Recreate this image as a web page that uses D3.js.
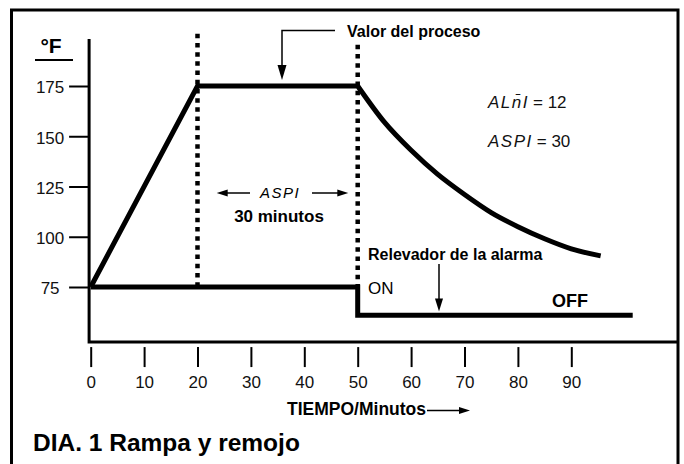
<!DOCTYPE html>
<html lang="es">
<head>
<meta charset="utf-8">
<title>DIA. 1 Rampa y remojo</title>
<script src="https://cdn.jsdelivr.net/npm/d3@7/dist/d3.min.js"></script>
<style>
  body { margin: 0; background: #fff; }
  svg { display: block; font-family: "Liberation Sans", Arial, sans-serif; }
  .tick line { stroke: #000; stroke-width: 2; }
  .tick text { font-size: 17px; fill: #111; }
  .seg { font-style: italic; letter-spacing: 1.5px; }
</style>
</head>
<body>
<script>
// values
var xTicks = [0, 10, 20, 30, 40, 50, 60, 70, 80, 90];
var yTicks = [75, 100, 125, 150, 175];

// process value: ramp + soak, then cooling curve
var processRamp = [[0, 75], [20, 175], [50, 175]];
var processDecay = [[50, 175], [55, 157], [60, 143], [65, 131], [70, 121],
                    [75, 112], [80, 105], [85, 99], [90, 94], [95.5, 90.5]];

// alarm relay: ON at 75 until 50 min, then OFF
var alarmTimes = [0, 50, 50, 101.5];
var alarmLevels = [75, 75, 61, 61];

// dotted markers (soak start / end)
var markerTimes = [20, 50];

var w = 684, h = 464;

var x = d3.scaleLinear().domain([0, 100]).range([90.7, 624.7]);
var y = d3.scaleLinear().domain([75, 175]).range([287, 86]);

var svg = d3.select("body").append("svg")
  .attr("width", w)
  .attr("height", h);

// outer frame
svg.append("rect")
  .attr("x", 11.5).attr("y", 10)
  .attr("width", 666.5).attr("height", 470)
  .attr("fill", "none").attr("stroke", "#000").attr("stroke-width", 3);

function arrow(px, py, dir, len, wid) {
  // triangle with its tip at px,py
  var p;
  if (dir == "down") p = [[px, py], [px - wid / 2, py - len], [px + wid / 2, py - len]];
  if (dir == "left") p = [[px, py], [px + len, py - wid / 2], [px + len, py + wid / 2]];
  if (dir == "right") p = [[px, py], [px - len, py - wid / 2], [px - len, py + wid / 2]];
  svg.append("path").attr("d", "M" + p.join("L") + "Z").attr("fill", "#000");
}

// plot box: left axis and bottom line
var x0 = x(-0.3), x1 = x(110.1), yb = y(47.6), yt = y(198.4);
svg.append("path")
  .attr("d", "M" + x0 + "," + yt + "V" + yb + "H" + x1)
  .attr("fill", "none").attr("stroke", "#000").attr("stroke-width", 3);

// y ticks
var gy = svg.append("g")
  .attr("transform", "translate(" + x0 + ",0)")
  .call(d3.axisLeft(y).tickValues(yTicks).tickSize(20).tickSizeOuter(0));
gy.select(".domain").remove();
gy.selectAll(".tick text")
  .attr("x", -39).attr("dy", "0.4em")
  .attr("text-anchor", "middle");

// x ticks
var gx = svg.append("g")
  .attr("transform", "translate(0," + (yb + 5) + ")")
  .call(d3.axisBottom(x).tickValues(xTicks).tickSize(20).tickPadding(9).tickSizeOuter(0));
gx.select(".domain").remove();

// °F unit
svg.append("text")
  .attr("x", 51).attr("y", 53)
  .attr("text-anchor", "middle")
  .style("font-size", "21px").style("font-weight", "bold")
  .text("°F");
svg.append("line")
  .attr("x1", 35).attr("x2", 73).attr("y1", 60).attr("y2", 60)
  .attr("stroke", "#000").attr("stroke-width", 2);

// dotted markers
var markerTops = [201, 195.5];
svg.selectAll(".marker")
  .data(markerTimes)
  .enter().append("line")
  .attr("class", "marker")
  .attr("x1", function(d) { return x(d); })
  .attr("x2", function(d) { return x(d); })
  .attr("y1", function(d, i) { return y(markerTops[i]); })
  .attr("y2", y(76))
  .attr("stroke", "#000").attr("stroke-width", 4.5)
  .attr("stroke-dasharray", "4.5,4.7");

// process value line
var lineLin = d3.line().x(function(d) { return x(d[0]); }).y(function(d) { return y(d[1]); });
var lineCurve = d3.line().x(function(d) { return x(d[0]); }).y(function(d) { return y(d[1]); })
  .curve(d3.curveMonotoneX);
var decayD = lineCurve(processDecay).replace(/^M[^A-Za-z]*/, "");
svg.append("path")
  .attr("d", lineLin(processRamp) + decayD)
  .attr("fill", "none").attr("stroke", "#000")
  .attr("stroke-width", 5).attr("stroke-linejoin", "miter");

// alarm relay line
var alarm = alarmTimes.map(function(t, i) { return [t, alarmLevels[i]]; });
svg.append("path")
  .attr("d", lineLin(alarm))
  .attr("fill", "none").attr("stroke", "#000")
  .attr("stroke-width", 5).attr("stroke-linejoin", "miter");

// "Valor del proceso" callout
svg.append("text")
  .attr("x", 347).attr("y", 37)
  .style("font-size", "16px").style("font-weight", "bold")
  .text("Valor del proceso");
svg.append("path")
  .attr("d", "M335,30.5H282V70")
  .attr("fill", "none").attr("stroke", "#000").attr("stroke-width", 1.5);
arrow(282, 80, "down", 15, 9);

// ALM1 / ASP1 settings
var setting = svg.append("g").style("font-size", "17px").attr("fill", "#111");
var t1 = setting.append("text").attr("x", 488).attr("y", 108);
t1.append("tspan").attr("class", "seg").text("AL\u006E\u0304I");
t1.append("tspan").attr("dx", 4).text("= 12");
var t2 = setting.append("text").attr("x", 488).attr("y", 147);
t2.append("tspan").attr("class", "seg").text("ASPI");
t2.append("tspan").attr("dx", 4).text("= 30");

// soak duration between markers
svg.append("text")
  .attr("x", 280).attr("y", 198)
  .attr("text-anchor", "middle")
  .attr("class", "seg")
  .style("font-size", "15px")
  .text("ASPI");
svg.append("line").attr("x1", 226).attr("x2", 250).attr("y1", 193).attr("y2", 193)
  .attr("stroke", "#000").attr("stroke-width", 1.5);
arrow(216.7, 193, "left", 11, 7);
svg.append("line").attr("x1", 312).attr("x2", 338).attr("y1", 193).attr("y2", 193)
  .attr("stroke", "#000").attr("stroke-width", 1.5);
arrow(348.3, 193, "right", 11, 7);
svg.append("text")
  .attr("x", 279).attr("y", 221.5)
  .attr("text-anchor", "middle")
  .style("font-size", "17px").style("font-weight", "bold")
  .text("30 minutos");

// alarm relay labels
svg.append("text")
  .attr("x", 368).attr("y", 260)
  .style("font-size", "16px").style("font-weight", "bold")
  .text("Relevador de la alarma");
svg.append("line").attr("x1", 439).attr("x2", 439).attr("y1", 264).attr("y2", 300)
  .attr("stroke", "#000").attr("stroke-width", 1.5);
arrow(439, 311.5, "down", 13, 8);
svg.append("text")
  .attr("x", 368).attr("y", 294)
  .style("font-size", "17px")
  .text("ON");
svg.append("text")
  .attr("x", 552).attr("y", 306.5)
  .style("font-size", "18px").style("font-weight", "bold")
  .text("OFF");

// x axis title
svg.append("text")
  .attr("x", 287).attr("y", 415)
  .style("font-size", "17.5px").style("font-weight", "bold")
  .text("TIEMPO/Minutos");
svg.append("line").attr("x1", 427).attr("x2", 460).attr("y1", 410.5).attr("y2", 410.5)
  .attr("stroke", "#000").attr("stroke-width", 1.5);
arrow(470, 410.5, "right", 11, 7);

// caption
svg.append("text")
  .attr("x", 33).attr("y", 451)
  .style("font-size", "24.5px").style("font-weight", "bold")
  .text("DIA. 1 Rampa y remojo");
</script>
</body>
</html>
